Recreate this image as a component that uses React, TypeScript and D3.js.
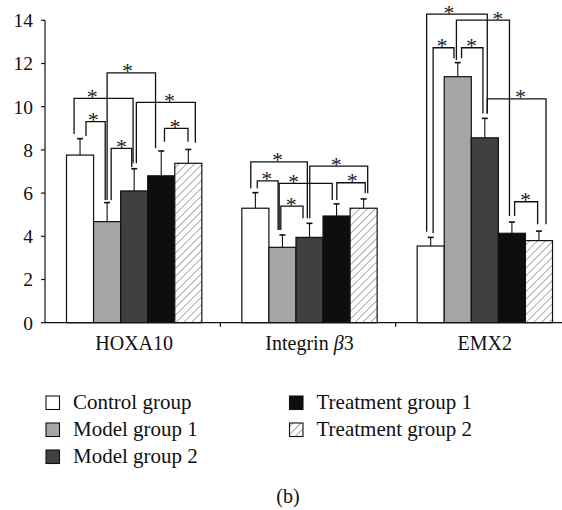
import React from "react";
import * as d3 from "d3";

const categories = ["HOXA10", "Integrin β3", "EMX2"];
const seriesNames = ["Control group", "Model group 1", "Model group 2", "Treatment group 1", "Treatment group 2"];
const seriesFills = ["#ffffff", "#a6a6a6", "#404040", "#0e0e0e", "url(#hatch)"];

const hoxa10Mean = [7.76, 4.68, 6.1, 6.8, 7.38];
const hoxa10Err = [0.76, 0.88, 1.03, 1.15, 0.64];
const integrinMean = [5.3, 3.49, 3.95, 4.94, 5.3];
const integrinErr = [0.72, 0.57, 0.65, 0.56, 0.43];
const emx2Mean = [3.55, 11.39, 8.56, 4.14, 3.8];
const emx2Err = [0.4, 0.65, 0.9, 0.52, 0.44];

const means = [hoxa10Mean, integrinMean, emx2Mean];
const errs = [hoxa10Err, integrinErr, emx2Err];

const yTicks = [0, 2, 4, 6, 8, 10, 12, 14];

// significance brackets: [category, leftSlot, rightSlot, topValue, leftLegEnd, rightLegEnd, starSlot]
const hoxa10Brackets = [
  [0, 0.28, 2.46, 10.39, 8.74, 7.38, 0.95],
  [0, 0.72, 1.43, 9.31, 8.64, 5.68, 0.99],
  [0, 1.5, 3.29, 11.57, 5.68, 8.09, 2.25],
  [0, 2.58, 4.76, 10.2, 7.38, 8.33, 3.81],
  [0, 1.65, 2.41, 8.07, 5.68, 7.21, 2.03],
  [0, 3.62, 4.49, 9.0, 8.38, 8.38, 4.01],
];
const integrinBrackets = [
  [1, 0.33, 2.42, 7.45, 6.22, 4.83, 1.32],
  [1, 0.57, 1.34, 6.57, 6.22, 4.29, 0.92],
  [1, 1.38, 3.34, 6.45, 4.29, 5.68, 1.91],
  [1, 1.44, 2.26, 5.4, 4.29, 4.83, 1.83],
  [1, 2.51, 4.65, 7.25, 4.83, 5.99, 3.49],
  [1, 3.51, 4.56, 6.48, 5.68, 5.99, 4.08],
];
const emx2Brackets = [
  [2, 0.35, 2.59, 14.29, 4.21, 9.69, 1.18],
  [2, 1.45, 3.41, 14.01, 12.16, 4.94, 2.98],
  [2, 0.59, 1.36, 12.73, 4.14, 12.24, 0.92],
  [2, 1.64, 2.43, 12.73, 12.24, 9.69, 2.01],
  [2, 2.59, 4.76, 10.36, 9.69, 4.56, 3.82],
  [2, 3.6, 4.45, 5.6, 4.94, 4.56, 4.0],
];
const brackets = [...hoxa10Brackets, ...integrinBrackets, ...emx2Brackets];

const FONT = "'Liberation Serif', 'Times New Roman', serif";

export default function App() {
  const W = 562;
  const H = 510;
  const axisX = 45;
  const y = d3.scaleLinear().domain([0, 14]).range([322.7, 20.3]);
  const x0 = d3.scaleBand<string>().domain(categories).range([axisX, 571]).padding(0);
  const groupOffset = 21.5;
  const x1 = d3
    .scaleBand<string>()
    .domain(seriesNames)
    .range([groupOffset, x0.bandwidth() - groupOffset + 3])
    .padding(0);
  const bw = x1.bandwidth();
  const slotX = (ci: number, s: number) => (x0(categories[ci]) as number) + groupOffset + s * bw;

  const boundaries = categories.slice(1).map((c) => x0(c) as number);

  const legendRows = [
    [0, 0, 0],
    [1, 0, 1],
    [2, 0, 2],
    [3, 1, 0],
    [4, 1, 1],
  ];

  return (
    <div style={{ position: "absolute", left: 0, top: 0 }}>
      <svg width={W} height={H} style={{ display: "block", background: "#fff" }} fontFamily={FONT}>
        <defs>
          <pattern id="hatch" patternUnits="userSpaceOnUse" width="5.5" height="5.5" patternTransform="rotate(45)">
            <rect width="5.5" height="5.5" fill="#fff" />
            <line x1="0" y1="0" x2="0" y2="5.5" stroke="#444" strokeWidth="0.9" />
          </pattern>
        </defs>

        {/* bars */}
        {means.map((row, ci) =>
          row.map((v, si) => (
            <rect
              key={`b${ci}-${si}`}
              x={(x0(categories[ci]) as number) + (x1(seriesNames[si]) as number)}
              y={y(v)}
              width={bw}
              height={y(0) - y(v)}
              fill={seriesFills[si]}
              stroke="#111"
              strokeWidth={1.2}
            />
          ))
        )}

        {/* error bars */}
        {means.map((row, ci) =>
          row.map((v, si) => {
            const cx = (x0(categories[ci]) as number) + (x1(seriesNames[si]) as number) + bw / 2;
            const top = y(v + errs[ci][si]);
            return (
              <g key={`e${ci}-${si}`} stroke="#111" strokeWidth={1.1}>
                <line x1={cx} x2={cx} y1={y(v)} y2={top} />
                <line x1={cx - 3} x2={cx + 3} y1={top} y2={top} strokeWidth={1.6} />
              </g>
            );
          })
        )}

        {/* brackets */}
        {brackets.map((b, i) => {
          const [ci, l, r, t, lb, rb, s] = b;
          const xl = slotX(ci, l);
          const xr = slotX(ci, r);
          const yt = y(t);
          return (
            <g key={`k${i}`}>
              <path
                d={`M${xl},${y(lb)}V${yt}H${xr}V${y(rb)}`}
                fill="none"
                stroke="#111"
                strokeWidth={1.3}
              />
              <text x={slotX(ci, s)} y={yt + 5.5} fontSize={22} textAnchor="middle" fill="#222">
                *
              </text>
            </g>
          );
        })}

        {/* y axis */}
        <line x1={axisX} x2={axisX} y1={y(14)} y2={y(0)} stroke="#111" strokeWidth={1.2} />
        {yTicks.map((t) => (
          <g key={`yt${t}`}>
            <line x1={axisX - 4} x2={axisX} y1={y(t)} y2={y(t)} stroke="#111" strokeWidth={1.2} />
            <text x={33} y={y(t)} dy="0.35em" textAnchor="end" fontSize={19.5} fill="#111">
              {t}
            </text>
          </g>
        ))}

        {/* x axis */}
        <line x1={axisX} x2={W} y1={y(0)} y2={y(0)} stroke="#111" strokeWidth={1.2} />
        {boundaries.map((bx, i) => (
          <line key={`xt${i}`} x1={bx} x2={bx} y1={y(0)} y2={y(0) + 4} stroke="#111" strokeWidth={1.2} />
        ))}
        {categories.map((c, ci) => {
          const cx = (x0(c) as number) + x0.bandwidth() / 2 + 1.5;
          if (c.includes("β")) {
            const [pre, post] = c.split("β");
            return (
              <text key={c} x={cx} y={350} textAnchor="middle" fontSize={20} fill="#111">
                {pre}
                <tspan fontStyle="italic">β</tspan>
                {post}
              </text>
            );
          }
          return (
            <text key={c} x={cx} y={350} textAnchor="middle" fontSize={20} fill="#111">
              {c}
            </text>
          );
        })}

        {/* legend */}
        {legendRows.map(([si, col, row]) => {
          const lx = col === 0 ? 46 : 289.5;
          const ly = 396 + row * 27;
          return (
            <g key={`l${si}`}>
              <rect x={lx} y={ly} width={13.5} height={13.5} fill={seriesFills[si]} stroke="#111" strokeWidth={1.1} />
              <text x={lx + 27} y={ly + 12.8} fontSize={21} fill="#111">
                {seriesNames[si]}
              </text>
            </g>
          );
        })}

        <text x={288} y={503} textAnchor="middle" fontSize={20} fill="#111">
          (b)
        </text>
      </svg>
    </div>
  );
}
